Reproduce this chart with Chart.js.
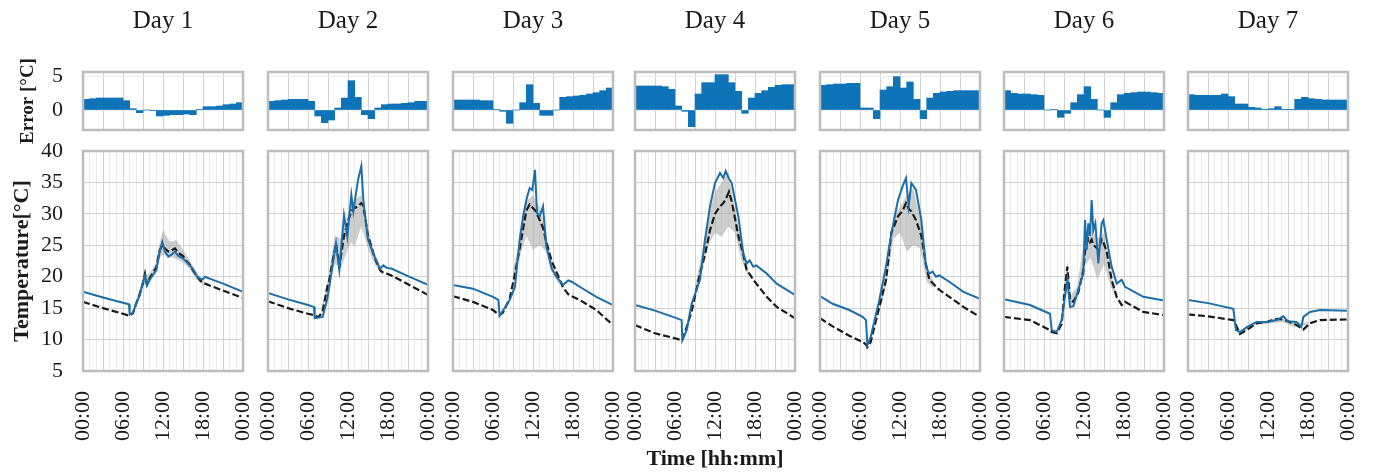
<!DOCTYPE html>
<html>
<head>
<meta charset="utf-8">
<script src="https://cdn.jsdelivr.net/npm/chart.js@4.4.0/dist/chart.umd.min.js"></script>
<style>
  body { margin: 0; background: #fff; width: 1381px; height: 473px; overflow: hidden; position: relative; }
  canvas { position: absolute; }
</style>
</head>
<body>
<script>
// Categories and tick labels
const DAY_NAMES = ["Day 1", "Day 2", "Day 3", "Day 4", "Day 5", "Day 6", "Day 7"];
const HOUR_BINS = [0, 1, 2, 3, 4, 5, 6, 7, 8, 9, 10, 11, 12, 13, 14, 15, 16, 17, 18, 19, 20, 21, 22, 23];
const TIME_TICKS = ["00:00", "06:00", "12:00", "18:00", "00:00"];
const ERROR_TICKS = [0, 5];

// Hourly error [°C]
const errDay1 = [1.6, 1.7, 1.8, 1.8, 1.8, 1.8, 1.4, 0.2, -0.4, 0.0, -0.1, -0.9, -0.8, -0.7, -0.7, -0.6, -0.7, 0.1, 0.5, 0.5, 0.6, 0.8, 0.9, 1.1];
const errDay2 = [1.3, 1.4, 1.5, 1.6, 1.6, 1.6, 1.3, -0.9, -1.9, -1.5, 0.3, 1.8, 4.4, 1.9, -0.7, -1.3, 0.3, 0.8, 0.9, 0.9, 1.0, 1.1, 1.3, 1.3];
const errDay3 = [1.5, 1.5, 1.5, 1.5, 1.4, 1.4, 0.1, -0.2, -2.0, 0.0, 1.1, 3.8, 1.0, -0.8, -0.8, 0.0, 1.9, 2.0, 2.1, 2.2, 2.4, 2.6, 2.9, 3.3];
const errDay4 = [3.6, 3.6, 3.6, 3.6, 3.5, 3.1, 0.6, -0.2, -2.5, 2.4, 4.1, 4.1, 5.3, 5.3, 4.1, 2.8, -0.5, 1.8, 2.5, 2.9, 3.4, 3.7, 3.8, 3.8];
const errDay5 = [3.7, 3.8, 3.9, 3.9, 4.0, 4.0, 0.3, 0.3, -1.3, 3.0, 3.5, 5.0, 3.3, 4.2, 1.6, -1.3, 1.8, 2.5, 2.7, 2.8, 2.9, 2.9, 2.9, 2.9];
const errDay6 = [2.9, 2.5, 2.4, 2.4, 2.3, 2.2, 0.0, 0.1, -1.1, -0.5, 1.1, 2.3, 3.5, 1.6, 0.0, -1.1, 1.1, 2.3, 2.5, 2.6, 2.7, 2.7, 2.6, 2.5];
const errDay7 = [2.3, 2.2, 2.2, 2.2, 2.2, 2.4, 2.0, 0.9, 0.9, 0.4, 0.3, 0.1, 0.2, 0.5, 0.1, 0.1, 1.6, 1.9, 1.7, 1.6, 1.5, 1.5, 1.5, 1.5];

// Temperature [°C]: time in hours, simulated (blue), measured (dashed)
const timeDay1 = [0, 3, 6, 6.9, 7.0, 7.5, 8, 8.5, 9, 9.3, 9.6, 10, 10.5, 11, 11.5, 11.9, 12.3, 12.8, 13.3, 13.8, 14.3, 15, 15.5, 16, 16.5, 17, 17.5, 18, 18.3, 19, 21, 24];
const simDay1 = [17.6, 16.7, 15.85, 15.6, 14.0, 14.3, 15.8, 17.0, 19.2, 20.2, 18.6, 19.5, 20.3, 21.0, 24.0, 25.5, 24.0, 23.2, 23.5, 24.0, 23.3, 22.9, 22.4, 21.8, 21.2, 20.2, 19.7, 19.6, 20.0, 19.7, 18.9, 17.6];
const measDay1 = [16.0, 15.0, 14.1, 13.8, 13.8, 14.2, 15.8, 17.2, 19.0, 20.5, 18.8, 19.8, 20.6, 21.5, 24.2, 25.0, 24.5, 24.0, 24.2, 24.5, 23.8, 23.3, 22.5, 21.9, 21.0, 20.2, 19.5, 19.0, 18.9, 18.6, 17.8, 16.6];
const bandTimeDay1 = [8, 9, 10, 11, 11.5, 12, 13, 14, 15, 16, 17, 18];
const bandLowDay1 = [15.5, 18.5, 19.2, 21.0, 23.0, 23.5, 23.2, 22.8, 22.3, 21.2, 19.6, 18.6];
const bandHighDay1 = [16.2, 19.8, 20.5, 22.3, 25.5, 27.4, 25.6, 25.8, 24.3, 22.6, 20.8, 19.3];

const timeDay2 = [0, 3, 6, 6.9, 7.0, 7.6, 8.2, 8.9, 9.2, 9.7, 10.2, 10.7, 11.4, 11.9, 12.5, 12.8, 13.5, 14.0, 14.3, 15, 15.5, 16, 16.8, 17.3, 17.8, 18.5, 21, 24];
const simDay2 = [17.4, 16.4, 15.5, 15.2, 13.4, 13.5, 13.6, 16.5, 18.4, 22.0, 25.3, 21.1, 29.8, 26.4, 33.0, 30.4, 35.4, 37.6, 32.2, 25.9, 24.5, 23.2, 21.3, 21.8, 21.4, 21.3, 20.1, 18.7];
const measDay2 = [16.1, 15.0, 14.1, 13.9, 13.8, 13.6, 14.5, 18.4, 19.5, 22.5, 25.3, 21.6, 26.5, 28.5, 30.4, 30.8, 31.2, 31.7, 31.3, 26.5, 24.8, 23.0, 21.1, 20.6, 20.5, 20.2, 18.8, 17.1];
const bandTimeDay2 = [8, 9, 10, 11, 12, 12.5, 13, 14, 15, 16, 17];
const bandLowDay2 = [14.2, 17.5, 22.0, 21.5, 24.5, 25.5, 24.8, 28.0, 24.5, 22.0, 20.3];
const bandHighDay2 = [14.8, 19.5, 26.5, 26.0, 30.0, 31.5, 32.2, 33.0, 27.5, 23.8, 21.0];

const timeDay3 = [0, 3, 6, 6.8, 7.0, 7.5, 8.5, 9.3, 10, 10.5, 11, 11.5, 11.9, 12.3, 12.6, 13, 13.5, 14, 14.8, 15.5, 16.5, 17.3, 17.8, 19, 21.5, 24];
const simDay3 = [18.7, 18.1, 16.8, 16.3, 13.8, 14.6, 16.3, 18.4, 25.9, 29.5, 32.2, 34.1, 33.8, 37.0, 30.1, 29.6, 31.2, 24.8, 21.3, 20.0, 18.7, 19.4, 19.2, 18.4, 16.8, 15.5];
const measDay3 = [16.9, 16.0, 14.7, 14.0, 13.9, 14.3, 16.5, 20.5, 24.5, 27.5, 30.5, 31.5, 31.0, 30.6, 30.0, 29.0, 27.8, 25.5, 22.5, 20.8, 18.3, 17.2, 16.9, 16.3, 14.7, 12.3];
const bandTimeDay3 = [9, 10, 11, 12, 13, 14, 15, 16];
const bandLowDay3 = [19.5, 23.0, 26.5, 24.3, 25.0, 24.0, 20.5, 18.6];
const bandHighDay3 = [21.0, 26.0, 32.0, 33.0, 31.0, 26.5, 21.8, 19.3];

const timeDay4 = [0, 3, 6, 7.0, 7.1, 7.75, 8.5, 9.75, 10.5, 11.25, 12, 12.75, 13.25, 13.6, 14.1, 14.5, 15.5, 16.25, 16.75, 17.2, 17.75, 18.2, 19.75, 21.25, 24];
const simDay4 = [15.5, 14.6, 13.5, 13.1, 9.9, 11.5, 15.7, 19.5, 25.9, 31.2, 34.9, 36.5, 35.7, 36.8, 35.6, 34.9, 29.6, 23.7, 22.1, 22.6, 21.6, 21.8, 20.5, 18.9, 17.1];
const measDay4 = [12.3, 11.0, 10.2, 9.9, 9.9, 12.0, 14.5, 20.5, 23.5, 27.4, 30.0, 31.2, 31.7, 32.3, 33.5, 32.0, 26.5, 23.5, 21.1, 20.4, 19.5, 18.9, 16.8, 15.2, 13.4];
const bandTimeDay4 = [9, 10, 11, 12, 13, 14, 15, 16, 17];
const bandLowDay4 = [17.0, 21.0, 25.0, 27.0, 26.4, 28.0, 27.0, 22.5, 20.0];
const bandHighDay4 = [18.5, 23.5, 29.5, 33.5, 35.0, 36.5, 31.0, 25.0, 21.0];

const timeDay5 = [0, 1.9, 4.4, 6.4, 6.9, 7.1, 7.6, 8.9, 9.9, 10.7, 11.7, 12.4, 12.9, 13.3, 13.7, 14.4, 15.2, 15.9, 16.4, 16.9, 17.4, 17.9, 19.4, 21.5, 24];
const simDay5 = [16.9, 15.7, 14.7, 13.6, 13.1, 9.1, 10.4, 16.3, 21.6, 26.9, 32.2, 34.4, 35.7, 31.2, 34.9, 33.8, 29.0, 21.6, 20.5, 20.8, 20.0, 20.2, 19.2, 17.6, 16.5];
const measDay5 = [13.4, 12.1, 10.6, 9.6, 9.2, 8.8, 9.6, 15.2, 19.5, 27.0, 29.6, 30.5, 31.7, 30.8, 30.4, 29.0, 26.5, 22.0, 19.5, 19.0, 18.4, 17.9, 16.8, 15.2, 13.6];
const bandTimeDay5 = [9, 10, 11, 12, 13, 14, 15, 16, 17];
const bandLowDay5 = [14.5, 19.0, 26.0, 27.0, 24.0, 25.0, 24.5, 19.2, 18.2];
const bandHighDay5 = [16.0, 20.5, 29.5, 31.0, 33.0, 34.0, 29.5, 21.0, 19.5];

const timeDay6 = [0, 3.9, 6.9, 7.15, 7.9, 8.65, 9.15, 9.5, 9.9, 10.4, 11.15, 11.9, 12.15, 12.4, 12.65, 12.9, 13.15, 13.4, 13.7, 14.15, 14.65, 14.9, 15.4, 16.15, 16.9, 17.65, 18.15, 20.9, 24];
const simDay6 = [16.4, 15.5, 14.1, 11.5, 11.2, 13.1, 16.8, 19.5, 15.2, 15.3, 17.9, 20.5, 29.0, 24.3, 28.5, 26.5, 32.2, 27.4, 28.5, 22.1, 28.5, 29.0, 25.9, 21.6, 18.9, 19.5, 18.4, 16.8, 16.2];
const measDay6 = [13.6, 13.1, 11.5, 11.2, 11.0, 12.5, 18.4, 21.6, 16.3, 16.0, 17.5, 21.0, 24.0, 25.3, 26.0, 25.5, 25.9, 25.0, 24.8, 24.3, 25.9, 25.5, 24.0, 19.5, 16.8, 15.5, 16.0, 14.4, 13.9];
const bandTimeDay6 = [9, 9.5, 10, 11, 12, 13, 14, 15, 16, 17];
const bandLowDay6 = [15.5, 19.5, 15.5, 16.5, 21.5, 23.0, 19.5, 22.0, 18.5, 16.0];
const bandHighDay6 = [17.5, 22.5, 17.0, 18.5, 26.0, 28.0, 26.0, 27.0, 20.5, 17.0];

const timeDay7 = [0, 3, 6.8, 7.2, 7.8, 8.8, 10.3, 11.8, 13.3, 14.3, 15.0, 16.3, 17.0, 17.3, 18.3, 19.8, 24];
const simDay7 = [16.3, 15.8, 14.9, 11.5, 11.2, 12.0, 12.8, 12.8, 13.1, 13.7, 12.9, 12.8, 12.0, 13.6, 14.4, 14.7, 14.6];
const measDay7 = [14.0, 13.7, 13.1, 12.3, 10.9, 11.5, 12.6, 12.8, 13.3, 13.2, 12.9, 12.3, 11.8, 11.6, 12.6, 13.1, 13.2];
const bandTimeDay7 = [8, 10, 12, 14, 16, 18];
const bandLowDay7 = [10.8, 12.3, 12.5, 12.8, 12.0, 12.3];
const bandHighDay7 = [11.3, 12.8, 13.0, 13.5, 12.6, 12.8];

// Colours and layout
const BAR_BLUE = "#0f73b8";
const LINE_BLUE = "#1b6ea8";
const INK = "#1a1a1a";
const GRID_MAJOR = "#d2d2d2";
const GRID_MINOR = "#ececec";
const FRAME = "#bdbdbd";
const BAND_GRAY = "rgba(165,165,165,0.55)";

const PLOT_LEFT = [83, 268, 453, 635, 820, 1004, 1188];
const PLOT_W = 160;
const SIDE = 30;

Chart.defaults.font.family = "'Liberation Serif', 'Times New Roman', serif";
Chart.defaults.color = INK;

const days = [
  { err: errDay1, time: timeDay1, sim: simDay1, meas: measDay1, bandTime: bandTimeDay1, low: bandLowDay1, high: bandHighDay1 },
  { err: errDay2, time: timeDay2, sim: simDay2, meas: measDay2, bandTime: bandTimeDay2, low: bandLowDay2, high: bandHighDay2 },
  { err: errDay3, time: timeDay3, sim: simDay3, meas: measDay3, bandTime: bandTimeDay3, low: bandLowDay3, high: bandHighDay3 },
  { err: errDay4, time: timeDay4, sim: simDay4, meas: measDay4, bandTime: bandTimeDay4, low: bandLowDay4, high: bandHighDay4 },
  { err: errDay5, time: timeDay5, sim: simDay5, meas: measDay5, bandTime: bandTimeDay5, low: bandLowDay5, high: bandHighDay5 },
  { err: errDay6, time: timeDay6, sim: simDay6, meas: measDay6, bandTime: bandTimeDay6, low: bandLowDay6, high: bandHighDay6 },
  { err: errDay7, time: timeDay7, sim: simDay7, meas: measDay7, bandTime: bandTimeDay7, low: bandLowDay7, high: bandHighDay7 }
];

// Grey box round each plot area
const frame = {
  id: "frame",
  afterDraw(chart) {
    const { ctx, chartArea: a } = chart;
    ctx.save();
    ctx.strokeStyle = FRAME;
    ctx.lineWidth = 2.5;
    ctx.strokeRect(a.left, a.top, a.right - a.left, a.bottom - a.top);
    ctx.restore();
  }
};

function addCanvas(left, top, w, h) {
  const c = document.createElement("canvas");
  c.width = w;
  c.height = h;
  c.style.left = left + "px";
  c.style.top = top + "px";
  c.style.width = w + "px";
  c.style.height = h + "px";
  document.body.appendChild(c);
  return c;
}

function pairs(xs, ys) {
  return xs.map((x, i) => ({ x, y: ys[i] }));
}

// gap between labels and box comes from an invisible tick mark, not ticks.padding
const hiddenTick = { drawTicks: true, tickLength: 20, tickColor: "transparent" };

function renderErrorChart(i, d) {
  const first = i === 0;
  const yW = first ? PLOT_LEFT[0] : SIDE;
  const canvas = addCanvas(PLOT_LEFT[i] - yW, 0, yW + PLOT_W + SIDE, 160);

  new Chart(canvas, {
    type: "bar",
    data: {
      labels: HOUR_BINS,
      datasets: [{
        data: d.err,
        backgroundColor: BAR_BLUE,
        borderWidth: 0,
        barPercentage: 1,
        categoryPercentage: 1
      }]
    },
    options: {
      responsive: false,
      animation: false,
      devicePixelRatio: 1,
      layout: { padding: { right: SIDE, bottom: 30 } },
      plugins: {
        legend: { display: false },
        tooltip: { enabled: false },
        title: {
          display: true,
          text: DAY_NAMES[i],
          fullSize: false,
          color: INK,
          font: { size: 25, weight: "normal" },
          padding: { top: 6, bottom: 36 }
        }
      },
      scales: {
        x: {
          ticks: { display: false },
          border: { display: false },
          grid: {
            offset: true,
            drawTicks: false,
            color: ctx => (ctx.index % 3 === 0 ? GRID_MAJOR : "transparent")
          },
          afterFit: s => { s.height = 0; }
        },
        y: {
          min: -3,
          max: 5.7,
          afterBuildTicks: s => { s.ticks = ERROR_TICKS.map(v => ({ value: v })); },
          border: { display: false },
          grid: { ...hiddenTick, color: GRID_MINOR },
          ticks: { display: first, padding: 0, font: { size: 22 } },
          title: {
            display: first,
            text: "Error [°C]",
            font: { size: 19, weight: "bold" },
            padding: { top: 17, bottom: 0 }
          },
          afterFit: s => { s.width = yW; }
        }
      }
    },
    plugins: [frame]
  });
}

function renderTempChart(i, d) {
  const first = i === 0;
  const yW = first ? PLOT_LEFT[0] : SIDE;
  const canvas = addCanvas(PLOT_LEFT[i] - yW, 126, yW + PLOT_W + SIDE, 347);

  new Chart(canvas, {
    type: "line",
    data: {
      datasets: [
        { data: pairs(d.time, d.sim), borderColor: LINE_BLUE, borderWidth: 2, pointRadius: 0 },
        { data: pairs(d.time, d.meas), borderColor: "#1a1a1a", borderWidth: 2.2, borderDash: [7, 3], pointRadius: 0 },
        { data: pairs(d.bandTime, d.low), borderColor: "transparent", borderWidth: 0, pointRadius: 0 },
        { data: pairs(d.bandTime, d.high), borderColor: "transparent", borderWidth: 0, pointRadius: 0, fill: "-1", backgroundColor: BAND_GRAY }
      ]
    },
    options: {
      responsive: false,
      animation: false,
      devicePixelRatio: 1,
      layout: { padding: { top: 25, right: SIDE } },
      plugins: { legend: { display: false }, tooltip: { enabled: false } },
      scales: {
        x: {
          type: "linear",
          min: 0,
          max: 24,
          border: { display: false },
          grid: {
            ...hiddenTick,
            color: ctx => (ctx.tick && ctx.tick.value % 3 === 0 ? GRID_MAJOR : GRID_MINOR)
          },
          ticks: {
            stepSize: 1,
            autoSkip: false,
            minRotation: 90,
            maxRotation: 90,
            padding: 0,
            font: { size: 22 },
            callback: v => (v % 6 === 0 ? TIME_TICKS[v / 6] : "")
          },
          title: {
            display: i === 3,
            text: "Time [hh:mm]",
            font: { size: 22, weight: "bold" },
            padding: { top: 0, bottom: 0 }
          },
          afterFit: s => { s.height = 102; }
        },
        y: {
          min: 5,
          max: 40,
          border: { display: false },
          grid: { ...hiddenTick, color: GRID_MAJOR },
          ticks: { display: first, stepSize: 5, autoSkip: false, padding: 0, font: { size: 22 } },
          title: {
            display: first,
            text: "Temperature[°C]",
            font: { size: 22, weight: "bold" },
            padding: { top: 9, bottom: 0 }
          },
          afterFit: s => { s.width = yW; }
        }
      }
    },
    plugins: [frame]
  });
}

days.forEach((d, i) => {
  renderErrorChart(i, d);
  renderTempChart(i, d);
});
</script>
</body>
</html>
